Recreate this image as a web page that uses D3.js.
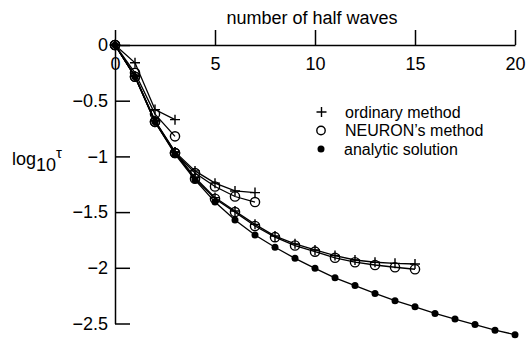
<!DOCTYPE html>
<html>
<head>
<meta charset="utf-8">
<script src="https://cdn.jsdelivr.net/npm/d3@7"></script>
<style>
  body { margin: 0; background: #fff; }
  svg text { font-family: "Liberation Sans", Arial, sans-serif; fill: #000; }
</style>
</head>
<body>
<div class="chart"></div>
<script>
// values are log10(tau), index = number of half waves
const analytic = [0, -0.285, -0.69, -0.98, -1.21, -1.41, -1.571, -1.706, -1.816, -1.915, -2.005,
  -2.09, -2.16, -2.23, -2.295, -2.35, -2.41, -2.46, -2.51, -2.56, -2.6];

const ordinary3 = [0, -0.16, -0.58, -0.67];
const neuron3 = [0, -0.25, -0.62, -0.82];

const ordinary7 = [0, -0.28, -0.68, -0.96, -1.13, -1.24, -1.31, -1.325];
const neuron7 = [0, -0.285, -0.69, -0.97, -1.15, -1.27, -1.36, -1.41];

const ordinary15 = [0, -0.28, -0.68, -0.96, -1.19, -1.37, -1.49, -1.61, -1.715, -1.785, -1.84,
  -1.89, -1.93, -1.95, -1.96, -1.966];
const neuron15 = [0, -0.285, -0.69, -0.97, -1.2, -1.38, -1.5, -1.625, -1.725, -1.8, -1.855,
  -1.91, -1.95, -1.975, -1.995, -2.013];

const xTicks = [0, 5, 10, 15, 20];
const yTicks = [0, -0.5, -1, -1.5, -2, -2.5];
const legendLabels = ['ordinary method', 'NEURON\u2019s method', 'analytic solution'];

const width = 526;
const height = 339;

const x = d3.scaleLinear().domain([0, 20]).range([115, 515]);
const y = d3.scaleLinear().domain([0, -2.5]).range([45, 323.5]);

const svg = d3.select('.chart')
  .append('svg')
  .attr('width', width)
  .attr('height', height);

// top axis: ticks point up, labels sit under the line
const xAxis = d3.axisBottom(x)
  .tickValues(xTicks)
  .tickSize(-15)
  .tickSizeOuter(0)
  .tickPadding(12)
  .tickFormat(d3.format('d'));

const gx = svg.append('g')
  .attr('transform', `translate(0,${y(0)})`)
  .call(xAxis);

const yAxis = d3.axisLeft(y)
  .tickValues(yTicks)
  .tickSize(-15)
  .tickSizeOuter(0)
  .tickPadding(7)
  .tickFormat(d3.format('~g'));

const gy = svg.append('g')
  .attr('transform', `translate(${x(0)},0)`)
  .call(yAxis);

[gx, gy].forEach(g => {
  g.selectAll('path, line').attr('stroke', '#000').attr('stroke-width', 1.5);
  g.selectAll('text').attr('font-size', 18).attr('font-family', '"Liberation Sans", Arial, sans-serif');
});

svg.append('text')
  .attr('x', 312)
  .attr('y', 24)
  .attr('text-anchor', 'middle')
  .attr('font-size', 18)
  .text('number of half waves');

// y label log10 tau
const ylab = svg.append('text')
  .attr('x', 12)
  .attr('y', 165)
  .attr('font-size', 18);
ylab.append('tspan').text('log');
ylab.append('tspan').attr('dy', 6).text('10');
ylab.append('tspan').attr('dy', -13).attr('font-size', 15).text('\u03c4');

const line = d3.line()
  .x((d, i) => x(i))
  .y(d => y(d));

const plusPath = s => `M${-s},0H${s}M0,${-s}V${s}`;

function drawSeries(values, kind) {
  const g = svg.append('g');
  g.append('path')
    .attr('d', line(values))
    .attr('fill', 'none')
    .attr('stroke', '#000')
    .attr('stroke-width', 1.3);
  const pts = g.selectAll('.pt').data(values).enter();
  if (kind === 'plus') {
    pts.append('path')
      .attr('transform', (d, i) => `translate(${x(i)},${y(d)})`)
      .attr('d', plusPath(5))
      .attr('stroke', '#000')
      .attr('stroke-width', 1.4);
  } else if (kind === 'circle') {
    pts.append('circle')
      .attr('cx', (d, i) => x(i))
      .attr('cy', d => y(d))
      .attr('r', 4.6)
      .attr('fill', 'none')
      .attr('stroke', '#000')
      .attr('stroke-width', 1.4);
  } else {
    pts.append('circle')
      .attr('cx', (d, i) => x(i))
      .attr('cy', d => y(d))
      .attr('r', 3.5)
      .attr('fill', '#000');
  }
}

drawSeries(analytic, 'dot');
drawSeries(ordinary15, 'plus');
drawSeries(neuron15, 'circle');
drawSeries(ordinary7, 'plus');
drawSeries(neuron7, 'circle');
drawSeries(ordinary3, 'plus');
drawSeries(neuron3, 'circle');

// legend
const legend = svg.append('g');
const legendY = [112, 130.5, 149];
legend.append('path')
  .attr('transform', `translate(321.5,${legendY[0]})`)
  .attr('d', plusPath(5))
  .attr('stroke', '#000')
  .attr('stroke-width', 1.4);
legend.append('circle')
  .attr('cx', 321)
  .attr('cy', legendY[1])
  .attr('r', 4.2)
  .attr('fill', 'none')
  .attr('stroke', '#000')
  .attr('stroke-width', 1.4);
legend.append('circle')
  .attr('cx', 321)
  .attr('cy', legendY[2])
  .attr('r', 3.5)
  .attr('fill', '#000');
legend.selectAll('.lab')
  .data(legendLabels)
  .enter()
  .append('text')
  .attr('x', (d, i) => (i === 2 ? 344 : 345))
  .attr('y', (d, i) => legendY[i] + 5.5)
  .attr('font-size', 16)
  .text(d => d);
</script>
</body>
</html>
